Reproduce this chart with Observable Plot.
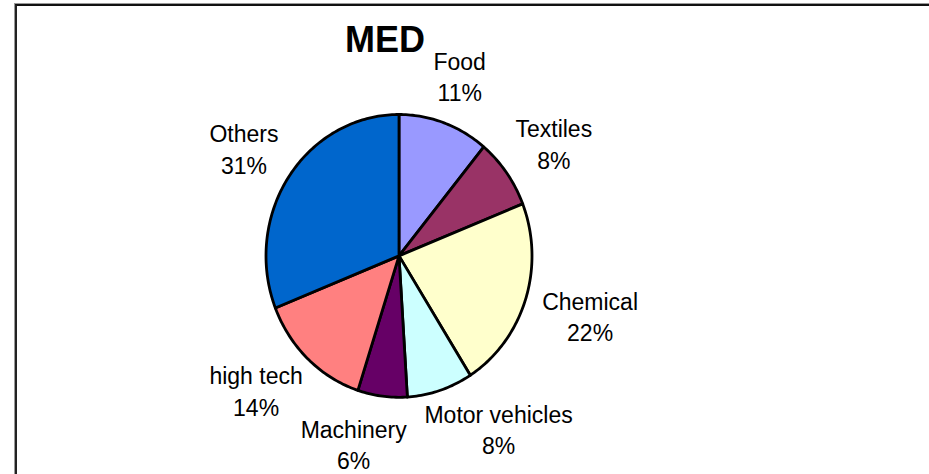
<!DOCTYPE html>
<html>
<head>
<meta charset="utf-8">
<script src="https://cdn.jsdelivr.net/npm/d3@7"></script>
<script src="https://cdn.jsdelivr.net/npm/@observablehq/plot@0.6"></script>
<style>
  html, body { margin: 0; padding: 0; background: #fff; }
  #wrap { position: relative; width: 929px; height: 474px; overflow: hidden; font-family: Arial, "Liberation Sans", sans-serif; }
  #frame { position: absolute; left: 15px; top: 4px; width: 1000px; height: 600px;
           border-left: 2px solid #222; border-top: 2px solid #111; box-shadow: -1px -1px 0 #999; }
  #title { position: absolute; left: 345px; top: 22px; font-size: 36px; line-height: 36px; font-weight: bold; color: #000; }
  #chart { position: absolute; left: 0; top: 0; }
</style>
</head>
<body>
<div id="wrap">
  <div id="frame"></div>
  <div id="chart"></div>
  <div id="title"></div>
</div>
<script>
const title = "MED";
const categories = ["Food", "Textiles", "Chemical", "Motor vehicles", "Machinery", "high tech", "Others"];
const shares = [11, 8, 22, 8, 6, 14, 31];
const colors = ["#9999FF", "#993366", "#FFFFCC", "#CCFFFF", "#660066", "#FF8080", "#0066CC"];

document.getElementById("title").textContent = title;

const FONT = "Arial, 'Liberation Sans', sans-serif";
const fontSize = 23;
const lineHeight = 1.36;

// pie geometry in unit coordinates (0 at 12 o'clock, clockwise)
const arcs = d3.pie().sort(null).value(d => d)(shares);
const slicePts = [];
arcs.forEach((a, i) => {
  const cat = categories[i];
  slicePts.push({cat, x: 0, y: 0});
  const n = Math.max(2, Math.ceil((a.endAngle - a.startAngle) / (Math.PI / 180)));
  for (let k = 0; k <= n; k++) {
    const t = a.startAngle + (a.endAngle - a.startAngle) * k / n;
    slicePts.push({cat, x: Math.sin(t), y: Math.cos(t)});
  }
});

// scales (unit circle -> pixels)
const xRange = [265.5, 531.5];
const yRange = [396.8, 114];
const rx = (xRange[1] - xRange[0]) / 2, ry = (yRange[0] - yRange[1]) / 2;
const cxp = (xRange[0] + xRange[1]) / 2, cyp = (yRange[0] + yRange[1]) / 2;

// label layout: box just outside the pie edge on the mid-angle, with collision avoidance
const ctx = document.createElement("canvas").getContext("2d");
ctx.font = `${fontSize}px ${FONT}`;
const gap = 20;
const placeH = fontSize * lineHeight + fontSize * 1.3;
const boxH = fontSize * lineHeight + fontSize * 0.95;
const pad = 8;
const labels = arcs.map((a, i) => {
  const lines = [categories[i], shares[i] + "%"];
  const w = Math.max(...lines.map(s => ctx.measureText(s).width));
  return {cat: categories[i], text: lines.join("\n"), theta: (a.startAngle + a.endAngle) / 2, w};
});
function center(l) {
  const s = Math.sin(l.theta), c = Math.cos(l.theta);
  const ax = cxp + s * (rx + gap), ay = cyp - c * (ry + gap);
  return [ax + s * l.w / 2, ay - c * placeH / 2];
}
function box(l) {
  const [px, py] = center(l);
  return [px - l.w / 2 - pad, px + l.w / 2 + pad, py - boxH / 2, py + boxH / 2];
}
for (let it = 0; it < 400; it++) {
  let moved = false;
  for (let i = 0; i < labels.length; i++) {
    for (let j = i + 1; j < labels.length; j++) {
      const A = box(labels[i]), B = box(labels[j]);
      if (A[0] < B[1] && B[0] < A[1] && A[2] < B[3] && B[2] < A[3]) {
        const step = 0.25 * Math.PI / 180;
        labels[i].theta -= step;
        labels[j].theta += step;
        moved = true;
      }
    }
  }
  if (!moved) break;
}
const xs = d3.scaleLinear().domain([-1, 1]).range(xRange);
const ys = d3.scaleLinear().domain([-1, 1]).range(yRange);
labels.forEach(l => { const [px, py] = center(l); l.x = xs.invert(px); l.y = ys.invert(py); });

const chart = Plot.plot({
  width: 929,
  height: 474,
  margin: 0,
  style: {background: "transparent", fontFamily: FONT},
  x: {domain: [-1, 1], range: xRange, axis: null},
  y: {domain: [-1, 1], range: yRange, axis: null},
  color: {domain: categories, range: colors},
  marks: [
    Plot.line(slicePts, {x: "x", y: "y", z: "cat", fill: "cat", stroke: "black", strokeWidth: 2.8, strokeLinejoin: "round", curve: "linear-closed"}),
    Plot.text(labels, {x: "x", y: "y", text: "text", fontSize, lineHeight, lineAnchor: "middle", textAnchor: "middle", fill: "black", fontFamily: FONT})
  ]
});
document.getElementById("chart").appendChild(chart);
</script>
</body>
</html>
